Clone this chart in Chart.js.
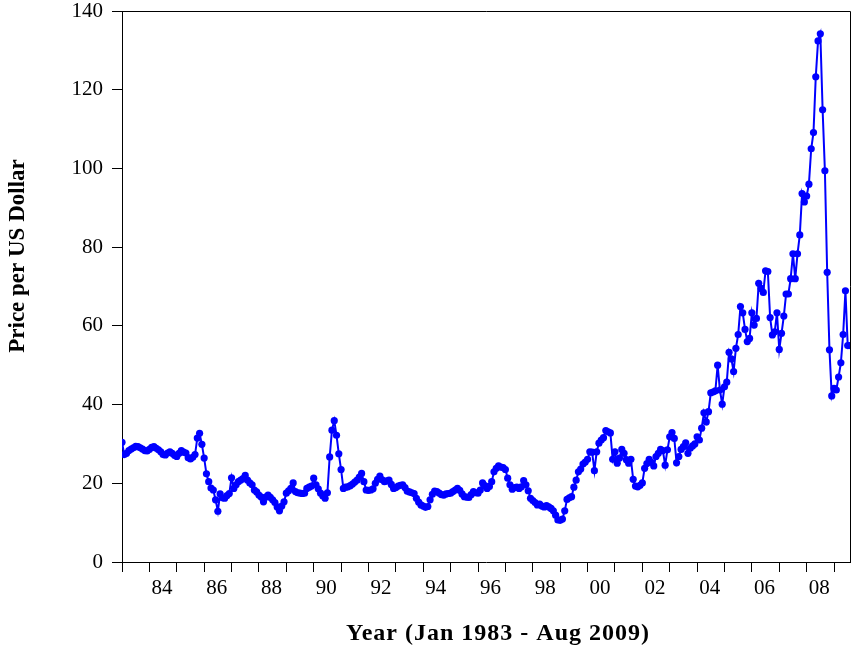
<!DOCTYPE html>
<html>
<head>
<meta charset="utf-8">
<script src="https://cdn.jsdelivr.net/npm/chart.js@4/dist/chart.umd.min.js"></script>
<style>
  html, body { margin: 0; padding: 0; background: #ffffff; }
  canvas { display: block; }
</style>
</head>
<body>
<canvas id="chart" width="854" height="649"></canvas>
<script>
// Monthly oil price, January 1983 to August 2009
const firstYear = 1983;

const prices1980s = [
  30.4, 27.3, 27.6, 28.3, 28.7, 29.0, 29.4, 29.3, 29.0, 28.7, 28.3, 28.2, // 1983
  28.6, 29.1, 29.3, 28.9, 28.5, 28.0, 27.3, 27.2, 27.7, 28.0, 27.6, 27.1, // 1984
  26.8, 27.6, 28.3, 27.9, 27.7, 26.5, 26.2, 26.6, 27.3, 31.5, 32.7, 29.9, // 1985
  26.4, 22.4, 20.4, 18.8, 18.3, 15.8, 12.9, 17.3, 16.3, 16.2, 16.9, 17.4, // 1986
  21.4, 18.7, 19.6, 20.4, 20.8, 21.2, 22.0, 20.8, 20.1, 19.6, 18.3, 17.8, // 1987
  17.0, 16.5, 15.3, 16.5, 17.0, 16.4, 15.8, 15.1, 14.0, 13.0, 14.2, 15.3, // 1988
  17.5, 18.1, 18.7, 20.1, 17.9, 17.6, 17.5, 17.4, 17.5, 18.7, 19.0, 19.3  // 1989
];

const prices1990s = [
  21.3, 19.6, 18.6, 17.5, 16.8, 16.2, 17.6, 26.7, 33.5, 35.9, 32.2, 27.5, // 1990
  23.5, 18.7, 19.0, 19.1, 19.4, 19.8, 20.3, 20.8, 21.6, 22.5, 20.4, 18.3, // 1991
  18.2, 18.3, 18.6, 20.0, 21.0, 21.8, 20.9, 20.4, 20.6, 20.8, 19.7, 18.7, // 1992
  18.9, 19.3, 19.5, 19.6, 18.9, 18.0, 17.8, 17.6, 17.4, 16.2, 15.2, 14.5, // 1993
  14.2, 13.9, 14.1, 15.8, 17.2, 18.0, 17.9, 17.5, 17.1, 17.0, 17.3, 17.4, // 1994
  17.5, 17.9, 18.3, 18.7, 18.2, 17.3, 16.6, 16.5, 16.4, 17.1, 17.9, 17.6, // 1995
  17.5, 18.3, 20.1, 19.4, 18.7, 19.2, 20.4, 22.9, 23.8, 24.4, 24.1, 24.0, // 1996
  23.5, 21.3, 19.6, 18.5, 18.9, 19.0, 18.7, 19.1, 20.7, 19.6, 18.1, 16.2, // 1997
  15.6, 15.1, 14.5, 14.7, 14.2, 14.0, 14.3, 14.0, 13.6, 13.0, 11.9, 10.7, // 1998
  10.6, 10.9, 13.0, 15.9, 16.3, 16.6, 19.0, 20.8, 22.9, 23.6, 24.9, 25.4  // 1999
];

const prices2000s = [
  26.1, 28.0, 27.9, 23.2, 28.0, 30.2, 31.0, 31.6, 33.4, 33.1, 32.8, 26.1, // 2000
  28.0, 25.1, 26.4, 28.6, 27.6, 26.0, 25.1, 26.1, 21.0, 19.3, 19.1, 19.5, // 2001
  20.1, 23.8, 25.0, 26.1, 25.3, 24.4, 26.8, 27.6, 28.6, 28.3, 24.6, 28.5, // 2002
  31.8, 32.9, 31.4, 25.2, 26.8, 28.6, 29.3, 30.3, 27.6, 28.9, 29.5, 30.0, // 2003
  31.8, 31.0, 34.0, 37.9, 35.6, 38.2, 43.0, 43.2, 43.5, 50.0, 43.7, 40.1, // 2004
  44.5, 45.7, 53.3, 51.6, 48.4, 54.3, 57.8, 64.9, 63.3, 59.1, 56.0, 56.8, // 2005
  63.3, 60.2, 61.9, 70.8, 69.5, 68.5, 74.0, 73.8, 62.1, 57.7, 58.5, 63.3, // 2006
  54.0, 58.1, 62.5, 68.1, 68.1, 72.0, 78.3, 72.0, 78.3, 83.1, 93.6, 91.5, // 2007
  93.0, 96.0, 105.0, 109.1, 123.3, 132.4, 134.2, 114.9, 99.4, 73.6, 53.9, 42.2, // 2008
  44.1, 43.7, 47.0, 50.6, 57.8, 68.9, 55.0, 55.0                          // 2009 (Jan-Aug)
];

const yearLabels = ['84', '86', '88', '90', '92', '94', '96', '98', '00', '02', '04', '06', '08'];
const yTicks = [0, 20, 40, 60, 80, 100, 120, 140];

const yAxisTitle = 'Price per US Dollar';
const xAxisTitle = 'Year (Jan 1983 - Aug 2009)';

// ---------------------------------------------------------------
const prices = prices1980s.concat(prices1990s, prices2000s);
const lastIndex = prices.length - 1;          // months since Jan 1983
const points = prices.map((v, i) => ({ x: i, y: v }));

// Year labels sit in the middle of their year; tick marks sit on each January.
const labelAt = {};
yearLabels.forEach(l => {
  const n = parseInt(l, 10);
  const year = n < 50 ? 2000 + n : 1900 + n;
  labelAt[(year - firstYear) * 12 + 5.5] = l;
});
const isLabelTick = v => Object.prototype.hasOwnProperty.call(labelAt, v);

const SERIF = '"Liberation Serif", "Times New Roman", serif';

const framePlugin = {
  id: 'frame',
  afterDraw(chart) {
    const { ctx, chartArea: a } = chart;
    ctx.save();
    ctx.strokeStyle = '#000000';
    ctx.lineWidth = 1;
    ctx.beginPath();
    ctx.moveTo(a.left, Math.round(a.top) + 0.5);
    ctx.lineTo(Math.round(a.right) + 0.5, Math.round(a.top) + 0.5);
    ctx.lineTo(Math.round(a.right) + 0.5, a.bottom);
    ctx.stroke();

    // axis titles
    ctx.fillStyle = '#000000';
    ctx.textAlign = 'center';
    ctx.textBaseline = 'middle';
    ctx.font = 'bold 24px ' + SERIF;
    if ('letterSpacing' in ctx) ctx.letterSpacing = '1px';
    ctx.fillText(xAxisTitle, 498, 634);
    if ('letterSpacing' in ctx) ctx.letterSpacing = '0px';

    ctx.font = 'bold 23px ' + SERIF;
    ctx.translate(18, 256);
    ctx.rotate(-Math.PI / 2);
    ctx.fillText(yAxisTitle, 0, 0);
    ctx.restore();
  }
};

new Chart(document.getElementById('chart'), {
  type: 'line',
  data: {
    datasets: [{
      data: points,
      borderColor: '#0000ff',
      borderWidth: 2,
      pointRadius: 3.6,
      pointBackgroundColor: '#0000ff',
      pointBorderColor: '#0000ff',
      pointBorderWidth: 0,
      tension: 0,
      fill: false
    }]
  },
  options: {
    responsive: false,
    animation: false,
    devicePixelRatio: 1,
    layout: { padding: { top: 11, right: 2, left: 0, bottom: 0 } },
    plugins: {
      legend: { display: false },
      tooltip: { enabled: false }
    },
    scales: {
      x: {
        type: 'linear',
        min: 0,
        max: lastIndex,
        afterBuildTicks(scale) {
          const t = [];
          for (let m = 0; m <= lastIndex; m += 12) t.push({ value: m });
          Object.keys(labelAt).forEach(k => t.push({ value: parseFloat(k) }));
          t.sort((a, b) => a.value - b.value);
          scale.ticks = t;
        },
        afterFit(scale) {
          scale.height = 87;
          scale.paddingLeft = 0;
          scale.paddingRight = 0;
        },
        border: { display: true, color: '#000000', width: 1 },
        grid: {
          display: true,
          drawOnChartArea: false,
          drawTicks: true,
          tickLength: 10,
          tickWidth: 1,
          tickColor: ctx => (ctx.tick && isLabelTick(ctx.tick.value)) ? 'rgba(0,0,0,0)' : '#000000'
        },
        ticks: {
          autoSkip: false,
          maxRotation: 0,
          minRotation: 0,
          padding: 4,
          color: '#000000',
          font: { family: SERIF, size: 21 },
          callback: value => (isLabelTick(value) ? labelAt[value] : '')
        }
      },
      y: {
        min: 0,
        max: 140,
        afterBuildTicks(scale) {
          scale.ticks = yTicks.map(v => ({ value: v }));
        },
        afterFit(scale) {
          scale.width = 122;
          scale.paddingTop = 0;
          scale.paddingBottom = 0;
        },
        border: { display: true, color: '#000000', width: 1 },
        grid: {
          display: true,
          drawOnChartArea: false,
          drawTicks: true,
          tickLength: 10,
          tickColor: '#000000'
        },
        ticks: {
          padding: 9,
          color: '#000000',
          font: { family: SERIF, size: 21 }
        }
      }
    }
  },
  plugins: [framePlugin]
});
</script>
</body>
</html>
